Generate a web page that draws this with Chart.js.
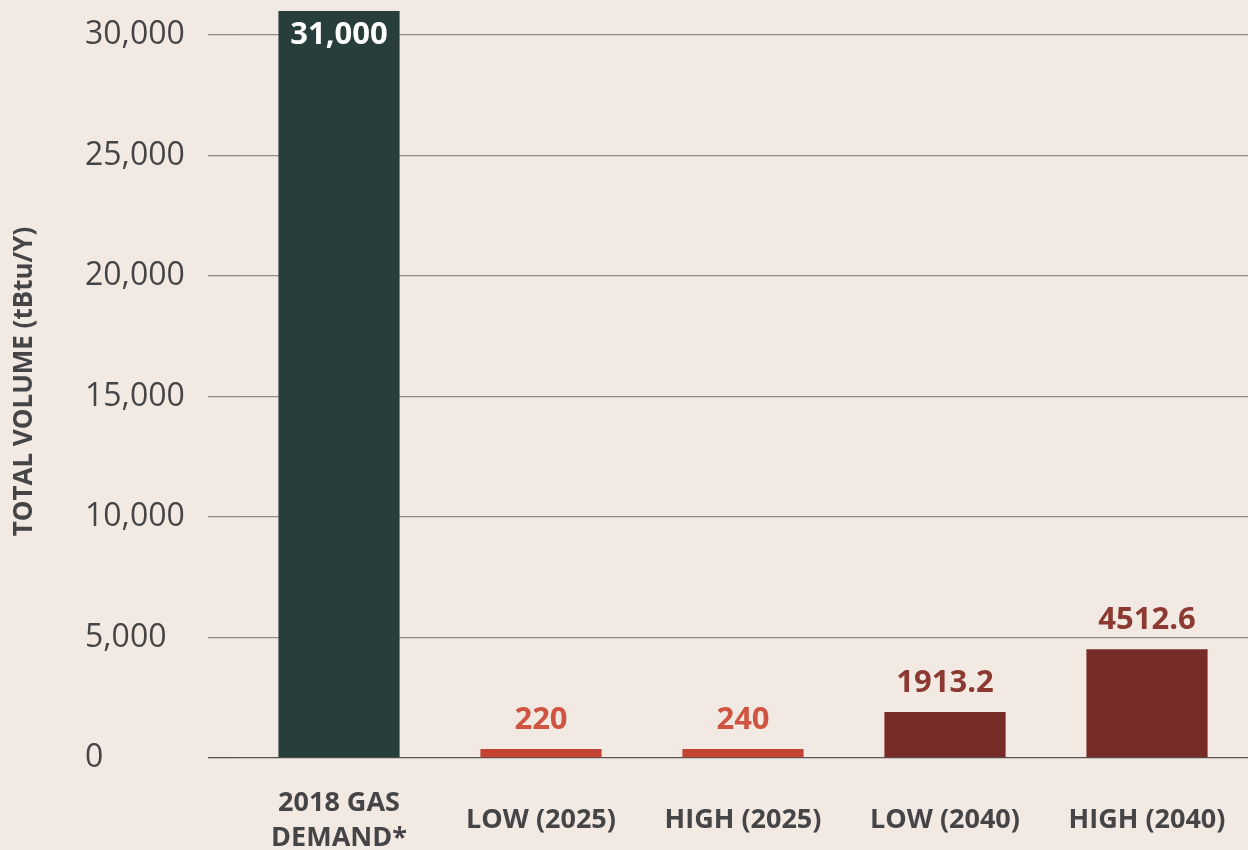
<!DOCTYPE html>
<html>
<head>
<meta charset="utf-8">
<script src="https://cdn.jsdelivr.net/npm/chart.js@4"></script>
<style>
  html, body { margin: 0; padding: 0; background: #f2e9e3; }
  #wrap { position: relative; width: 1248px; height: 850px; }
</style>
</head>
<body>
<div id="wrap"><canvas id="gasChart"></canvas></div>
<script>
const categories = [['2018 GAS', 'DEMAND*'], 'LOW (2025)', 'HIGH (2025)', 'LOW (2040)', 'HIGH (2040)'];
const volumes = [31000, 220, 240, 1913.2, 4512.6];
const valueLabels = ['31,000', '220', '240', '1913.2', '4512.6'];
const yTicks = [0, 5000, 10000, 15000, 20000, 25000, 30000];
const yMax = 31000;
const barColors = ['#283e3b', '#c44333', '#c44333', '#772c27', '#772c27'];
const labelColors = ['#ffffff', '#cf5441', '#cf5441', '#8c3a31', '#8c3a31'];
const yAxisTitle = 'TOTAL VOLUME (tBtu/Y)';

const FONT = '"Open Sans", Lato, sans-serif';
const TEXT = '#454547';

// value labels on top of (or inside) each bar
const barLabels = {
  id: 'barLabels',
  afterDatasetsDraw(chart) {
    const ctx = chart.ctx;
    const meta = chart.getDatasetMeta(0);
    ctx.save();
    ctx.font = 'bold 31px ' + FONT;
    ctx.textAlign = 'center';
    ctx.textBaseline = 'middle';
    meta.data.forEach((bar, i) => {
      ctx.fillStyle = labelColors[i];
      // tallest bar gets its label inside
      const y = i === 0 ? bar.y + 24 : bar.y - 29;
      ctx.fillText(valueLabels[i], bar.x, y);
    });
    ctx.restore();
  }
};

// rotated y axis title, drawn by hand so tick labels can sit left aligned
const axisTitle = {
  id: 'axisTitle',
  afterDraw(chart) {
    const ctx = chart.ctx;
    const area = chart.chartArea;
    ctx.save();
    ctx.translate(25, (area.top + area.bottom) / 2 - 3);
    ctx.rotate(-Math.PI / 2);
    ctx.font = 'bold 26px ' + FONT;
    ctx.fillStyle = TEXT;
    ctx.textAlign = 'center';
    ctx.textBaseline = 'middle';
    ctx.fillText(yAxisTitle, 0, 0);
    ctx.restore();
  }
};

new Chart(document.getElementById('gasChart'), {
  type: 'bar',
  data: {
    labels: categories,
    datasets: [{
      data: volumes,
      backgroundColor: barColors,
      barPercentage: 0.6,
      categoryPercentage: 1,
      minBarLength: 9
    }]
  },
  options: {
    responsive: true,
    maintainAspectRatio: false,
    animation: false,
    layout: { padding: { left: 85, top: 11, right: 0, bottom: 0 } },
    plugins: {
      legend: { display: false },
      tooltip: { enabled: false }
    },
    scales: {
      x: {
        grid: { display: false, drawTicks: true, tickLength: 45 },
        border: { display: false },
        ticks: {
          color: TEXT,
          font: { family: FONT, size: 27, weight: 'bold', lineHeight: 1.3 },
          padding: 0,
          crossAlign: 'center',
          maxRotation: 0,
          autoSkip: false
        },
        afterFit(scale) {
          scale.height = 92;
          scale.paddingLeft = 0;
          scale.paddingRight = 0;
        }
      },
      y: {
        min: 0,
        max: yMax,
        border: { display: false },
        grid: {
          color: (c) => c.tick && c.tick.value === 0 ? '#555555' : '#8f8a88',
          lineWidth: 1.3,
          tickLength: 30,
          drawTicks: true
        },
        ticks: {
          color: TEXT,
          font: { family: FONT, size: 32 },
          crossAlign: 'far',
          padding: 0,
          callback: (v) => v.toLocaleString('en-US')
        },
        afterBuildTicks(scale) {
          scale.ticks = yTicks.map((v) => ({ value: v }));
        },
        afterFit(scale) {
          scale.width = 153;
          scale.paddingTop = 0;
          scale.paddingBottom = 0;
        }
      }
    }
  },
  plugins: [barLabels, axisTitle]
});
</script>
</body>
</html>
